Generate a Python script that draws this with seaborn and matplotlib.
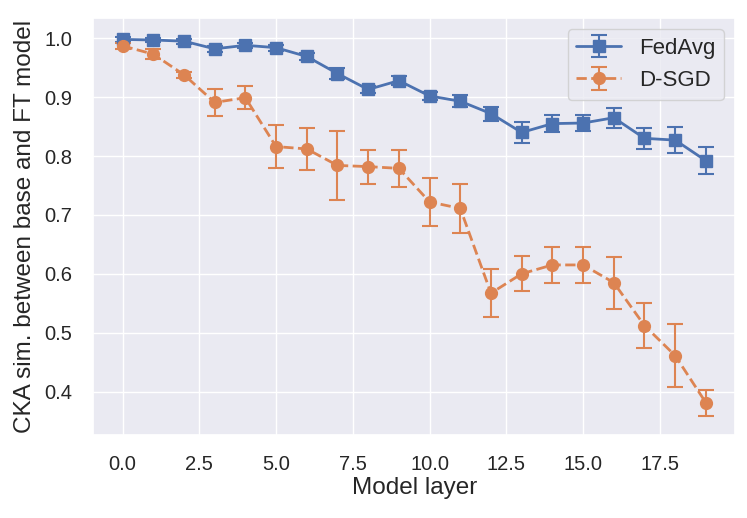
import numpy as np
import matplotlib
matplotlib.use("Agg")
import matplotlib.pyplot as plt
import seaborn as sns

layers = list(range(20))

fedavg_mean = [0.998, 0.997, 0.995, 0.982, 0.988, 0.984, 0.969, 0.940, 0.913, 0.928,
               0.902, 0.893, 0.872, 0.840, 0.855, 0.856, 0.865, 0.830, 0.827, 0.792]
fedavg_err = [0.004, 0.004, 0.004, 0.005, 0.004, 0.005, 0.006, 0.010, 0.006, 0.008,
              0.007, 0.010, 0.012, 0.018, 0.015, 0.013, 0.017, 0.018, 0.022, 0.023]

dsgd_mean = [0.987, 0.973, 0.938, 0.891, 0.899, 0.816, 0.812, 0.784, 0.782, 0.779,
             0.722, 0.711, 0.567, 0.600, 0.615, 0.615, 0.585, 0.512, 0.461, 0.381]
dsgd_err = [0.005, 0.008, 0.005, 0.023, 0.020, 0.037, 0.035, 0.058, 0.029, 0.032,
            0.041, 0.041, 0.041, 0.030, 0.030, 0.030, 0.044, 0.038, 0.054, 0.022]

sns.set_theme(style="darkgrid", font_scale=1.35)
plt.rcParams['font.family'] = ['Liberation Sans', 'DejaVu Sans']
plt.rcParams['xtick.major.pad'] = 9
plt.rcParams['ytick.major.pad'] = 9
colors = sns.color_palette()

fig, ax = plt.subplots(figsize=(7.47, 5.18), dpi=100)
ax.errorbar(layers, fedavg_mean, yerr=fedavg_err, color=colors[0], marker="s",
            markersize=8.5, linestyle="-", linewidth=2, capsize=6, capthick=1.5,
            elinewidth=1.5, label="FedAvg")
ax.errorbar(layers, dsgd_mean, yerr=dsgd_err, color=colors[1], marker="o",
            markersize=8.5, linestyle="--", linewidth=2, capsize=6, capthick=1.5,
            elinewidth=1.5, label="D-SGD")

ax.tick_params(labelsize=14.5)
ax.set_xlabel("Model layer", fontsize=17.5, labelpad=2)
ax.set_ylabel("CKA sim. between base and FT model", fontsize=17.5, labelpad=6)
ax.legend(loc="upper right", fontsize=16)
fig.subplots_adjust(left=0.125, right=0.984, top=0.965, bottom=0.161)
plt.savefig("out.png", dpi=100)
